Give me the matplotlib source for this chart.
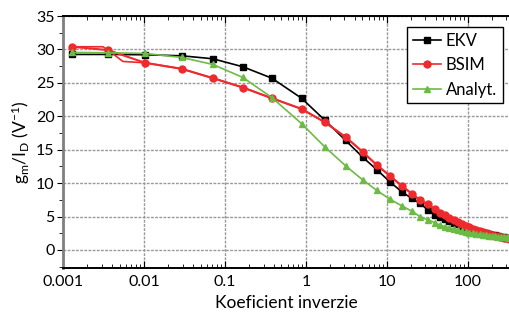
import numpy as np
import matplotlib
matplotlib.use('Agg')
import matplotlib.pyplot as plt
from matplotlib.ticker import LogLocator, MultipleLocator, NullFormatter, FixedLocator

plt.rcParams['font.family'] = ['Lato', 'DejaVu Sans']
plt.rcParams['mathtext.fontset'] = 'custom'
plt.rcParams['mathtext.rm'] = 'Lato'
plt.rcParams['mathtext.it'] = 'Lato'

# inversion coefficient sweep points (shared by all three models)
ic = [0.00128, 0.0036, 0.0103, 0.0292, 0.0711, 0.167, 0.38, 0.885, 1.72, 3.09,
      5.01, 7.53, 10.9, 15.3, 20.4, 25.5, 32.1, 39.1, 45.1, 52.0, 59.1, 67.2,
      75.3, 84.4, 94.5, 104.4, 115.3, 127.4, 140.7, 153.2, 166.8, 181.6, 197.8,
      215.3, 234.4, 255.2, 277.8, 302.5, 325.0]

gm_ekv = [29.25, 29.25, 29.2, 29.05, 28.6, 27.4, 25.7, 22.7, 19.4, 16.4,
          13.9, 12.0, 10.2, 8.7, 7.7, 7.0, 6.0, 5.3, 5.0, 4.7, 4.4, 4.1,
          3.85, 3.6, 3.4, 3.2, 3.05, 2.9, 2.75, 2.6, 2.5, 2.4, 2.3,
          2.2, 2.1, 2.0, 1.95, 1.85, 1.8]

gm_bsim = [30.4, 29.9, 28.0, 27.1, 25.7, 24.3, 22.7, 21.1, 19.1, 16.9,
           14.7, 12.7, 11.1, 9.6, 8.4, 7.5, 6.8, 6.1, 5.6, 5.2, 4.85, 4.5,
           4.2, 3.9, 3.6, 3.4, 3.2, 3.0, 2.85, 2.7, 2.55, 2.4, 2.3,
           2.15, 2.05, 1.95, 1.85, 1.75, 1.7]

gm_anal = [29.55, 29.5, 29.4, 28.8, 27.75, 25.8, 22.8, 18.9, 15.4, 12.6,
           10.5, 8.9, 7.6, 6.6, 5.8, 5.0, 4.5, 4.1, 3.7, 3.5, 3.3, 3.1,
           2.95, 2.8, 2.7, 2.6, 2.5, 2.4, 2.35, 2.25, 2.2, 2.15, 2.1,
           2.05, 2.0, 1.95, 1.9, 1.9, 1.85]

# BSIM line: flat start, then a step down after the 2nd sweep point
bsim_line_x = ic[:1] + [0.0031] + ic[1:2] + [0.0055] + ic[2:]
bsim_line_y = gm_bsim[:1] + [30.4] + gm_bsim[1:2] + [28.2] + gm_bsim[2:]

fig = plt.figure(figsize=(5.1, 3.2), dpi=100)
ax = fig.add_axes([0.1235, 0.1625, 0.876, 0.7875])

red = '#ee2a2e'
green = '#6cbb45'

ax.plot(ic, gm_ekv, '-', color='black', lw=1.2, marker='s', ms=4.3, label='EKV', zorder=3)
ax.plot(bsim_line_x, bsim_line_y, '-', color=red, lw=1.2, zorder=4)
ax.plot(ic, gm_bsim, 'none', color=red, marker='o', ms=5, zorder=4)
ax.plot([], [], '-', color=red, lw=1.2, marker='o', ms=5, label='BSIM')
ax.plot(ic, gm_anal, '-', color=green, lw=1.2, marker='^', ms=5, label='Analyt.', zorder=5)

ax.set_xscale('log')
ax.set_xlim(0.001, 330)
ax.set_ylim(-2.7, 35)

ax.xaxis.set_major_locator(FixedLocator([0.001, 0.01, 0.1, 1, 10, 100]))
ax.set_xticklabels(['0.001', '0.01', '0.1', '1', '10', '100'])
ax.xaxis.set_minor_locator(LogLocator(base=10, subs=np.arange(2, 10)))
ax.xaxis.set_minor_formatter(NullFormatter())
ax.yaxis.set_major_locator(MultipleLocator(5))
ax.yaxis.set_minor_locator(MultipleLocator(2.5))

ax.grid(True, which='major', color='#999999', linestyle=(0, (2, 1)), lw=1.0)
ax.set_axisbelow(True)

ax.tick_params(axis='x', which='both', direction='in', top=True, labelsize=11.5, colors='black', pad=5)
ax.tick_params(axis='x', which='major', length=5)
ax.tick_params(axis='x', which='minor', length=3)
ax.tick_params(axis='y', which='both', direction='out', right=True, labelsize=11.5, pad=2)
ax.tick_params(axis='y', which='major', length=4)
ax.tick_params(axis='y', which='minor', length=3)

ax.spines['left'].set_color('#808080')
ax.spines['left'].set_linewidth(2)
ax.spines['bottom'].set_linewidth(1.4)
ax.spines['top'].set_linewidth(1.4)
ax.spines['right'].set_visible(False)

ax.set_xlabel('Koeficient inverzie', fontsize=12.5, labelpad=4)
ax.set_ylabel(r'g$_\mathregular{m}$/I$_\mathregular{D}$ (V$^\mathregular{-1}$)', fontsize=12.5, labelpad=3)

leg = ax.legend(loc='upper right', bbox_to_anchor=(0.984, 0.956), fontsize=12, fancybox=False,
                framealpha=1, edgecolor='black', handlelength=1.7, handletextpad=0.25,
                borderpad=0.35, borderaxespad=0, labelspacing=0.5)
leg.get_frame().set_linewidth(1.0)

plt.savefig('out.png', dpi=100)
